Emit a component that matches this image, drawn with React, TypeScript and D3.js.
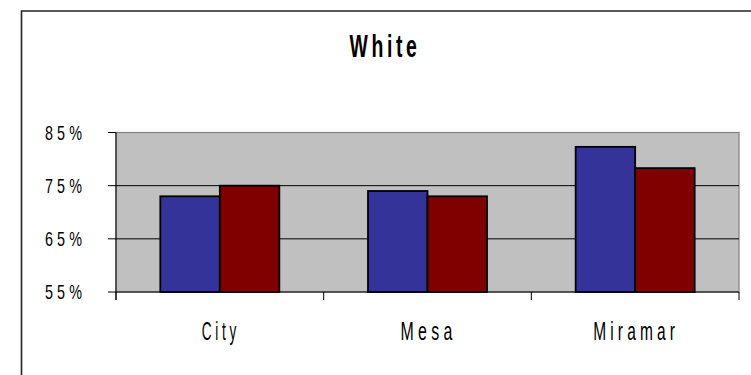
import React from "react";
import * as d3 from "d3";

const categories = ["City", "Mesa", "Miramar"];
const seriesA = [73, 74, 82.3];
const seriesB = [75, 73, 78.3];
const yTicks = [55, 65, 75, 85];
const title = "White";

const W = 751;
const H = 375;
const plot = { left: 116, right: 739, top: 132.5, bottom: 292 };
const colors = ["#333399", "#800000"];
const font = "'Liberation Sans', Arial, sans-serif";

export default function App() {
  const x = d3
    .scaleBand<string>()
    .domain(categories)
    .range([plot.left, plot.right])
    .paddingInner(0)
    .paddingOuter(0);
  const xs = d3
    .scaleBand<number>()
    .domain([0, 1])
    .range([0, x.bandwidth()])
    .paddingInner(0)
    .paddingOuter(0.745);
  const y = d3.scaleLinear().domain([55, 85]).range([plot.bottom, plot.top]);

  const series = [seriesA, seriesB];
  const catEdges = [...categories.map((c) => x(c) as number), plot.right];
  const labelWidths = [38, 56, 86];

  return (
    <svg
      width={W}
      height={H}
      style={{ position: "absolute", left: 0, top: 0, background: "#fff" }}
    >
      {/* outer frame (top and left edges only) */}
      <path d="M21.5,375 L21.5,11 L751,11" fill="none" stroke="#222" strokeWidth={1.6} />

      {/* title */}
      <text
        x={385}
        y={57}
        textAnchor="middle"
        fontFamily={font}
        fontWeight="bold"
        fontSize={32}
        letterSpacing={6}
        textLength={71}
        lengthAdjust="spacingAndGlyphs"
        fill="#000"
      >
        {title}
      </text>

      {/* plot area */}
      <rect
        x={plot.left}
        y={plot.top}
        width={plot.right - plot.left}
        height={plot.bottom - plot.top}
        fill="#c0c0c0"
        stroke="#808080"
        strokeWidth={1.2}
      />

      {/* gridlines */}
      {yTicks.slice(1, -1).map((t) => (
        <line
          key={"g" + t}
          x1={plot.left}
          x2={plot.right}
          y1={y(t)}
          y2={y(t)}
          stroke="#000"
          strokeWidth={1}
        />
      ))}

      {/* bars */}
      {categories.map((c, i) =>
        series.map((s, j) => (
          <rect
            key={c + j}
            x={(x(c) as number) + (xs(j) as number)}
            y={y(s[i])}
            width={xs.bandwidth()}
            height={y(55) - y(s[i])}
            fill={colors[j]}
            stroke="#000"
            strokeWidth={1.8}
          />
        ))
      )}

      {/* y axis */}
      <line x1={plot.left} x2={plot.left} y1={plot.top} y2={plot.bottom + 8} stroke="#000" strokeWidth={1} />
      {yTicks.map((t) => (
        <g key={"y" + t}>
          <line x1={plot.left - 8} x2={plot.left} y1={y(t)} y2={y(t)} stroke="#000" strokeWidth={1} />
          <text
            x={86}
            y={y(t) + 7.3}
            textAnchor="end"
            fontFamily={font}
            fontSize={21}
            letterSpacing={6}
            textLength={41}
            lengthAdjust="spacingAndGlyphs"
            fill="#000"
          >
            {t + "%"}
          </text>
        </g>
      ))}

      {/* x axis */}
      <line x1={plot.left} x2={plot.right} y1={plot.bottom} y2={plot.bottom} stroke="#000" strokeWidth={1} />
      {catEdges.map((e, i) => (
        <line key={"xt" + i} x1={e} x2={e} y1={plot.bottom} y2={plot.bottom + 8} stroke="#000" strokeWidth={1} />
      ))}
      {categories.map((c, i) => (
        <text
          key={"xl" + c}
          x={(x(c) as number) + x.bandwidth() / 2 + 1}
          y={340}
          textAnchor="middle"
          fontFamily={font}
          fontSize={26}
          letterSpacing={7}
          textLength={labelWidths[i]}
          lengthAdjust="spacingAndGlyphs"
          fill="#000"
        >
          {c}
        </text>
      ))}
    </svg>
  );
}
